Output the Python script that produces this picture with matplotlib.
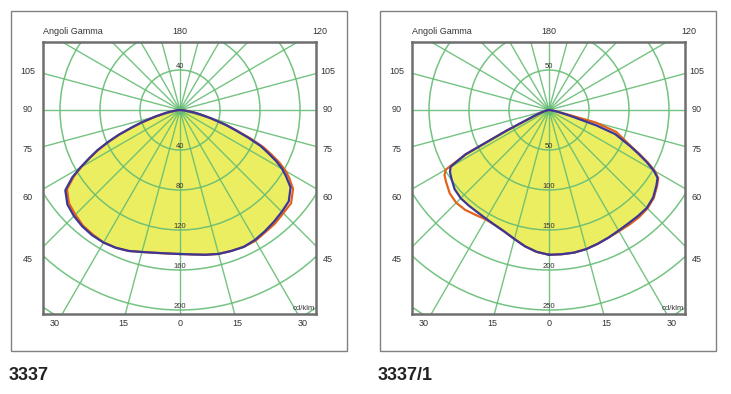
import matplotlib.pyplot as plt
import numpy as np
from matplotlib.patches import Circle, Rectangle

plt.rcParams["font.family"] = ["Liberation Sans", "DejaVu Sans"]

W, H = 731, 394

# gamma angles (deg from the downward vertical) shared by all curves
gamma = [0, 5, 10, 15, 20, 25, 30, 35, 40, 45, 50, 55, 58, 60, 62,
         64, 66, 68, 70, 72, 75, 78, 80, 85, 90]

# 3337 - intensity in cd/klm
p1_blue_right = [144, 145, 147, 149, 150, 151, 150, 148, 146, 144, 142, 135, 125,
                 118, 109, 98, 88, 73, 59, 48, 32, 20, 14, 4, 0]
p1_blue_left = [144, 144, 145, 147, 150, 152, 153, 153, 152, 150, 147, 140, 127,
                115, 103, 92, 79, 66, 52, 41, 26, 15, 10, 3, 0]
p1_orange_right = [144, 145, 147, 149, 150, 151, 151, 149, 148, 146, 145, 138, 129,
                   122, 113, 102, 91, 76, 61, 49, 32, 20, 14, 4, 0]
p1_orange_left = [144, 144, 145, 147, 150, 152, 153, 152, 151, 148, 145, 138, 125,
                  114, 102, 91, 78, 65, 51, 40, 25, 15, 10, 3, 0]

# 3337/1 - intensity in cd/klm
p2_blue_right = [181, 181, 181, 180, 178, 176, 174, 173, 173, 173, 170, 164, 160,
                 151, 138, 124, 111, 98, 88, 62, 25, 12, 8, 2, 0]
p2_blue_left = [181, 178, 173, 167, 162, 159, 157, 156, 156, 156, 154, 149, 146,
                142, 118, 60, 30, 20, 14, 10, 6, 3, 2, 1, 0]
p2_orange_right = [181, 181, 181, 180, 178, 176, 175, 175, 175, 174, 171, 165, 161,
                   153, 140, 126, 113, 103, 95, 88, 60, 14, 8, 2, 0]
p2_orange_left = [181, 178, 173, 167, 162, 159, 158, 160, 163, 164, 162, 157, 154,
                  149, 118, 60, 30, 20, 14, 10, 6, 3, 2, 1, 0]

side_labels = ["105", "90", "75", "60", "45"]
bottom_labels = ["30", "15", "0", "15", "30"]
titles = ["3337", "3337/1"]

GRID = "#66bd74"
TEXT = "#333333"


def closed_curve(right, left):
    g = np.radians(gamma)
    r_r = np.asarray(right, float)
    r_l = np.asarray(left, float)
    x = np.concatenate([r_r * np.sin(g), -(r_l * np.sin(g))[::-1]])
    y = np.concatenate([-r_r * np.cos(g), (-r_l * np.cos(g))[::-1]])
    return x, y


def draw_panel(ax, scale, step, blue, orange):
    """Polar photometric diagram drawn on a cartesian axes (1 unit = scale px)."""
    ax.set_xlim(-137 / scale, 136 / scale)
    ax.set_ylim(-204 / scale, 68 / scale)
    ax.set_aspect("equal", adjustable="box")
    ax.set_xticks([])
    ax.set_yticks([])
    for sp in ax.spines.values():
        sp.set_color("#6e6e6e")
        sp.set_linewidth(1.8)

    bx, by = closed_curve(*blue)
    ox, oy = closed_curve(*orange)
    ax.fill(bx, by, color="#ecee62", lw=0, zorder=1)

    # grid: rings and 15 deg rays
    for k in range(1, 9):
        ax.add_patch(Circle((0, 0), k * step, fill=False, ec=GRID, lw=1.1,
                            alpha=0.9, zorder=2))
    r_far = 10 * step
    for a in np.radians(np.arange(0, 360, 15)):
        ax.plot([0, r_far * np.sin(a)], [0, -r_far * np.cos(a)], color=GRID,
                lw=1.0, alpha=0.9, zorder=2)
    ax.scatter([0], [0], s=40, color="#5cc070", alpha=0.6, lw=0, zorder=2)

    ax.plot(ox, oy, color="#e2621c", lw=1.6, zorder=3)
    ax.plot(bx, by, color="#3b3796", lw=1.6, zorder=4)

    # ring values along the vertical
    up = 3.5 / scale
    for k in range(1, 6):
        ax.text(0, -k * step + up, str(k * step), fontsize=5.5, color=TEXT,
                ha="center", va="center", zorder=5)
    ax.text(0, step + up, str(step), fontsize=5.5, color=TEXT,
            ha="center", va="center", zorder=5)

    # gamma angle labels around the box (pixel offsets from the centre)
    def px(x, y):
        return x / scale, y / scale

    kw = dict(fontsize=6.5, color=TEXT, ha="center", va="center", clip_on=False)
    side_y = [38, 0, -40, -87, -149]
    for lab, yy in zip(side_labels, side_y):
        ax.text(*px(-152, yy), lab, **kw)
        ax.text(*px(148, yy), lab, **kw)
    bottom_x = [-125, -57, 0, 57, 123]
    for lab, xx in zip(bottom_labels, bottom_x):
        ax.text(*px(xx, -213), lab, **kw)
    ax.text(*px(0, 78), "180", **kw)
    ax.text(*px(140, 78), "120", **kw)
    ax.text(*px(-137, 78), "Angoli Gamma", fontsize=6.5, color=TEXT,
            ha="left", va="center", clip_on=False)
    ax.text(*px(135, -202), "cd/klm", fontsize=5.5, color=TEXT,
            ha="right", va="bottom", zorder=5)


fig = plt.figure(figsize=(W / 100, H / 100), dpi=100)

panels = [
    (43, 1.0, 40, (p1_blue_right, p1_blue_left), (p1_orange_right, p1_orange_left)),
    (412, 0.8, 50, (p2_blue_right, p2_blue_left), (p2_orange_right, p2_orange_left)),
]
frames_x = [11, 380]

for (x0, scale, step, blue, orange), fx, title in zip(panels, frames_x, titles):
    fig.patches.append(Rectangle((fx / W, 1 - 351 / H), 336 / W, 340 / H,
                                 transform=fig.transFigure, fill=False,
                                 ec="#808080", lw=1.0))
    ax = fig.add_axes([x0 / W, 1 - 314 / H, 273 / W, 272 / H])
    draw_panel(ax, scale, step, blue, orange)
    fig.text((fx - 2) / W, 1 - 375 / H, title, fontsize=13, fontweight="bold",
             color="#222222", ha="left", va="center")

fig.savefig("out.png", dpi=100)
